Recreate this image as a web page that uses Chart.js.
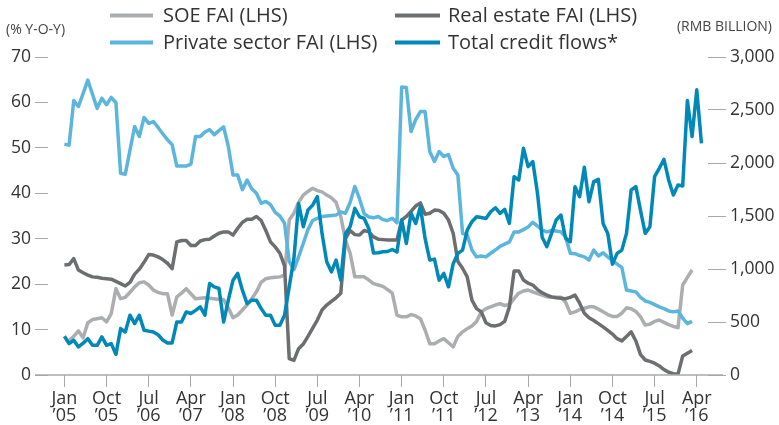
<!DOCTYPE html>
<html>
<head>
<meta charset="utf-8">
<script src="https://cdn.jsdelivr.net/npm/chart.js@4.4.1/dist/chart.umd.min.js"></script>
<style>
  html, body { margin: 0; padding: 0; background: #fff; }
  canvas { display: block; }
</style>
</head>
<body>
<canvas id="chart" width="779" height="425"></canvas>
<script>
(() => {
  'use strict';

  // monthly categories, Jan 2005 .. May 2016
  const MON = ['Jan', 'Feb', 'Mar', 'Apr', 'May', 'Jun', 'Jul', 'Aug', 'Sep', 'Oct', 'Nov', 'Dec'];
  const months = [];
  for (let y = 2005; y <= 2016; y++) {
    for (let m = 0; m < 12; m++) {
      if (y === 2016 && m > 4) break;
      months.push(`${MON[m]} ${y}`);
    }
  }

  const tickIdx = [0, 9, 18, 27, 36, 45, 54, 63, 72, 81, 90, 99, 108, 117, 126, 135];
  const tickMonth = ['Jan', 'Oct', 'Jul', 'Apr', 'Jan', 'Oct', 'Jul', 'Apr', 'Jan', 'Oct', 'Jul', 'Apr', 'Jan', 'Oct', 'Jul', 'Apr'];
  const tickYear = ['\u201905', '\u201905', '\u201906', '\u201907', '\u201908', '\u201908', '\u201909', '\u201910',
                    '\u201911', '\u201911', '\u201912', '\u201913', '\u201914', '\u201914', '\u201915', '\u201916'];

  // % y-o-y, LHS
  const soeFai = [
    null, 7.6, 8.5, 9.7, 8.2, 11.5, 12.2, 12.4, 12.6, 11.7, 13.5, 19.0,
    16.8, 17.1, 18.2, 19.4, 20.3, 20.5, 19.8, 18.7, 18.2, 17.9, 17.9, 13.2,
    17.2, 18.0, 19.0, 17.9, 16.8, 16.9, 17.0, 16.9, 16.8, 16.6, 16.6, 14.8,
    12.6, 13.2, 14.3, 15.4, 16.8, 18.3, 20.4, 21.2, 21.4, 21.5, 21.6, 22.0,
    34.1, 35.6, 38.0, 39.6, 40.4, 41.1, 40.6, 40.3, 39.6, 39.0, 38.0, 34.9,
    29.7, 26.8, 21.6, 21.6, 21.6, 20.9, 20.1, 19.8, 19.5, 18.8, 18.0, 13.2,
    12.8, 12.8, 13.3, 13.0, 12.4, 9.9, 6.9, 6.9, 7.5, 8.0, 7.1, 6.2,
    8.5, 9.5, 10.2, 10.8, 11.8, 13.9, 14.6, 15.0, 15.4, 15.7, 15.3, 15.5,
    16.8, 18.0, 18.5, 18.7, 18.3, 17.9, 17.6, 17.2, 17.1, 17.1, 17.1, 16.0,
    13.6, 13.9, 14.4, 14.7, 15.0, 15.0, 14.5, 13.9, 13.3, 12.9, 12.9, 13.6,
    14.8, 14.6, 14.0, 12.8, 11.0, 11.2, 11.8, 12.1, 11.6, 11.1, 10.7, 10.4,
    19.8, 21.5, 23.1, null, null
  ];

  const realEstateFai = [
    24.2, 24.3, 25.6, 23.1, 22.5, 22.0, 21.6, 21.5, 21.3, 21.2, 21.1, 20.6,
    20.1, 19.6, 20.4, 22.2, 23.3, 24.8, 26.5, 26.4, 26.0, 25.4, 24.6, 23.4,
    29.3, 29.6, 29.6, 28.5, 28.5, 29.5, 29.8, 29.9, 30.6, 31.2, 31.5, 31.5,
    30.8, 32.3, 33.6, 34.3, 34.3, 34.9, 34.0, 31.8, 29.3, 28.2, 26.8, 24.0,
    3.6, 3.2, 5.8, 6.8, 8.5, 10.3, 12.1, 14.3, 15.4, 16.2, 17.0, 18.0,
    30.0, 31.8, 30.9, 30.8, 31.8, 31.5, 30.4, 29.9, 29.8, 29.7, 29.7, 29.7,
    34.1, 34.9, 36.0, 37.2, 37.9, 35.4, 35.6, 36.3, 36.2, 35.6, 34.1, 31.2,
    25.0, 23.5, 21.6, 16.5, 14.6, 13.9, 11.5, 10.9, 10.8, 11.1, 11.8, 15.0,
    22.9, 22.9, 20.9, 20.2, 19.8, 18.8, 18.1, 17.6, 17.2, 17.0, 16.9, 16.8,
    17.1, 17.6, 15.8, 13.6, 12.6, 12.0, 11.3, 10.6, 9.8, 9.0, 8.0, 7.5,
    8.5, 9.5, 7.5, 4.5, 3.3, 3.0, 2.6, 2.0, 1.2, 0.6, 0.3, 0.2,
    4.2, 4.8, 5.4, null, null
  ];

  const privateFai = [
    50.8, 50.6, 60.4, 59.1, 62.0, 64.9, 61.8, 58.7, 60.9, 59.5, 61.1, 60.0,
    44.4, 44.2, 49.5, 54.7, 52.5, 56.7, 55.4, 55.8, 54.5, 53.1, 51.8, 50.7,
    46.0, 46.0, 46.0, 46.4, 52.5, 52.5, 53.5, 54.0, 52.9, 53.8, 54.6, 50.3,
    44.0, 44.0, 40.8, 42.9, 41.0, 40.0, 37.8, 38.2, 37.5, 35.8, 35.0, 33.4,
    25.0, 23.2, 26.0, 29.0, 32.0, 34.0, 34.5, 34.9, 35.0, 35.1, 35.2, 35.9,
    35.6, 38.0, 41.5, 38.8, 35.5, 34.8, 34.6, 34.9, 34.2, 34.0, 34.5, 33.5,
    63.4, 63.3, 53.6, 56.2, 58.0, 58.0, 49.2, 47.0, 49.2, 48.1, 48.5, 45.5,
    44.0, 31.2, 30.8, 27.5, 26.0, 26.2, 26.0, 26.8, 27.5, 28.3, 28.8, 29.3,
    31.5, 31.5, 32.0, 32.6, 33.6, 32.8, 31.9, 31.5, 31.8, 31.7, 31.5, 30.4,
    26.8, 26.7, 26.3, 26.0, 25.3, 27.5, 26.2, 26.9, 26.0, 25.2, 24.4, 23.7,
    18.7, 18.5, 18.3, 17.1, 16.3, 16.0, 15.5, 15.0, 14.6, 14.1, 13.9, 14.1,
    12.5, 11.3, 11.8, null, null
  ];

  // RMB billion, RHS
  const creditFlows = [
    365, 296, 328, 265, 300, 343, 280, 280, 359, 280, 296, 195,
    438, 406, 564, 485, 564, 422, 414, 406, 380, 330, 302, 302,
    501, 501, 595, 580, 610, 643, 564, 863, 832, 816, 501, 706,
    895, 958, 800, 674, 706, 706, 627, 564, 564, 469, 469, 564,
    832, 1100, 1619, 1399, 1556, 1603, 1682, 1336, 1068, 973, 1084, 895,
    1336, 1399, 1572, 1493, 1477, 1380, 1150, 1153, 1162, 1165, 1184, 1160,
    1462, 1241, 1525, 1430, 1588, 1288, 1084, 1093, 895, 958, 832, 1050,
    1147, 1178, 1367, 1446, 1493, 1485, 1477, 1540, 1578, 1525, 1562, 1430,
    1871, 1840, 2139, 1966, 2013, 1714, 1300, 1210, 1336, 1462, 1509, 1290,
    1257, 1777, 1682, 1959, 1635, 1824, 1846, 1430, 1336, 1046, 1147, 1178,
    1336, 1745, 1777, 1550, 1336, 1399, 1871, 1950, 2035, 1840, 1698, 1792,
    1783, 2589, 2249, 2690, 2186
  ];

  const FONT = "'Open Sans', 'Noto Sans', sans-serif";
  const TEXT = '#333333';
  const RULE = '#a6a8ab';

  const pts = (arr) => arr.map((v, i) => ({ x: i, y: v }));

  // legend slots: [swatch x0, swatch x1, text x, y]
  const legendSlots = [[110, 153, 163, 15.5], [395, 440, 448, 15.5], [110, 153, 163, 42.5], [395, 440, 448, 42.5]];

  const decorPlugin = {
    id: 'decorPlugin',
    afterDraw(chart) {
      const { ctx, chartArea } = chart;
      ctx.save();
      // baseline, running past both axes
      ctx.strokeStyle = RULE;
      ctx.lineWidth = 1.3;
      ctx.beginPath();
      ctx.moveTo(35, chartArea.bottom);
      ctx.lineTo(723, chartArea.bottom);
      ctx.stroke();

      // axis units
      ctx.fillStyle = '#444';
      ctx.font = `14px ${FONT}`;
      ctx.textBaseline = 'middle';
      ctx.textAlign = 'left';
      ctx.fillText('(% Y-O-Y)', 6, 30.5);
      ctx.textAlign = 'right';
      ctx.fillText('(RMB BILLION)', 772, 27.5);

      // legend, two columns
      ctx.textAlign = 'left';
      ctx.font = `20px ${FONT}`;
      chart.data.datasets.forEach((ds, i) => {
        const [x0, x1, tx, y] = legendSlots[i];
        ctx.strokeStyle = ds.borderColor;
        ctx.lineWidth = 4;
        ctx.beginPath();
        ctx.moveTo(x0, y);
        ctx.lineTo(x1, y);
        ctx.stroke();
        ctx.fillStyle = TEXT;
        ctx.fillText(ds.label, tx, y + 1);
      });
      ctx.restore();
    }
  };

  const line = (label, data, color, axis, order) => ({
    label, data: pts(data), yAxisID: axis, order,
    borderColor: color, backgroundColor: color, borderWidth: 3.5,
    pointRadius: 0, tension: 0, fill: false, spanGaps: false,
    borderJoinStyle: 'round', borderCapStyle: 'butt'
  });

  new Chart(document.getElementById('chart').getContext('2d'), {
    type: 'line',
    data: {
      datasets: [
        line('SOE FAI (LHS)', soeFai, '#abadb0', 'y', 4),
        line('Real estate FAI (LHS)', realEstateFai, '#6d6e71', 'y', 3),
        line('Private sector FAI (LHS)', privateFai, '#5cb5dc', 'y', 2),
        line('Total credit flows*', creditFlows, '#0088b9', 'y1', 1)
      ]
    },
    options: {
      responsive: false,
      devicePixelRatio: 1,
      animation: false,
      layout: { padding: { top: 57, left: 0, right: 0, bottom: 0 } },
      plugins: { legend: { display: false }, tooltip: { enabled: false } },
      scales: {
        x: {
          type: 'linear',
          min: -3.5,
          max: 137.4,
          afterFit: (s) => { s.height = 50; },
          afterBuildTicks: (s) => { s.ticks = tickIdx.map((v) => ({ value: v })); },
          border: { display: false },
          grid: { drawOnChartArea: false, drawTicks: true, tickLength: 12, tickColor: RULE, lineWidth: 1 },
          ticks: {
            autoSkip: false, maxRotation: 0, minRotation: 0, padding: 4,
            color: TEXT,
            font: { family: FONT, size: 18, lineHeight: 0.93 },
            callback: (v) => {
              const k = tickIdx.indexOf(v);
              return k < 0 ? '' : [tickMonth[k], tickYear[k]];
            }
          }
        },
        y: {
          position: 'left',
          min: 0,
          max: 70,
          afterFit: (s) => { s.width = 48; },
          border: { display: false },
          grid: { drawOnChartArea: false, drawTicks: true, tickLength: 13, tickColor: RULE, lineWidth: 1 },
          ticks: { stepSize: 10, padding: 4, color: TEXT, font: { family: FONT, size: 17.5 } }
        },
        y1: {
          position: 'right',
          min: 0,
          max: 3000,
          afterFit: (s) => { s.width = 71; },
          border: { display: false },
          grid: { drawOnChartArea: false, drawTicks: true, tickLength: 18, tickColor: RULE, lineWidth: 1 },
          ticks: {
            stepSize: 500, padding: 4, color: TEXT, font: { family: FONT, size: 17.5 },
            callback: (v) => v.toLocaleString('en-US')
          }
        }
      }
    },
    plugins: [decorPlugin]
  });
})();
</script>
</body>
</html>
